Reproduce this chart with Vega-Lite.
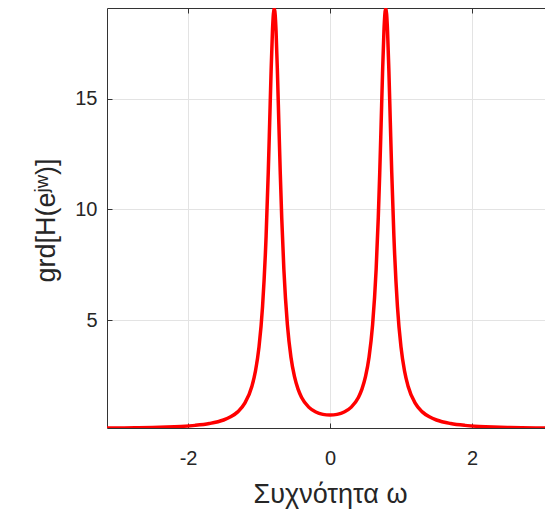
{
  "$schema": "https://vega.github.io/schema/vega-lite/v6.json",
  "width": 438,
  "height": 420,
  "autosize": {"type": "none"},
  "padding": {"left": 107, "top": 8, "right": 0, "bottom": 81},
  "background": "white",
  "config": {"view": {"stroke": null}, "font": "Liberation Sans"},
  "data": {"values": [
    {"w": -3.1416, "g": 0.1233}, {"w": -3.0, "g": 0.124}, {"w": -2.9, "g": 0.126}, {"w": -2.7, "g": 0.133},
    {"w": -2.5, "g": 0.145}, {"w": -2.3, "g": 0.164}, {"w": -2.1, "g": 0.194}, {"w": -1.9, "g": 0.242},
    {"w": -1.7, "g": 0.326}, {"w": -1.5, "g": 0.485}, {"w": -1.4, "g": 0.627}, {"w": -1.3, "g": 0.852},
    {"w": -1.2, "g": 1.244}, {"w": -1.1, "g": 2.013}, {"w": -1.05, "g": 2.699}, {"w": -1.0, "g": 3.791},
    {"w": -0.95, "g": 5.625}, {"w": -0.9, "g": 8.807}, {"w": -0.87, "g": 11.656}, {"w": -0.85, "g": 13.912},
    {"w": -0.83, "g": 16.216}, {"w": -0.81, "g": 18.121}, {"w": -0.7854, "g": 19.105}, {"w": -0.76, "g": 18.065},
    {"w": -0.74, "g": 16.137}, {"w": -0.72, "g": 13.833}, {"w": -0.7, "g": 11.588}, {"w": -0.68, "g": 9.622},
    {"w": -0.65, "g": 7.298}, {"w": -0.6, "g": 4.78}, {"w": -0.55, "g": 3.322}, {"w": -0.5, "g": 2.44},
    {"w": -0.45, "g": 1.879}, {"w": -0.4, "g": 1.505}, {"w": -0.3, "g": 1.068}, {"w": -0.2, "g": 0.847},
    {"w": -0.1, "g": 0.74}, {"w": 0.0, "g": 0.707},
    {"w": 0.1, "g": 0.74}, {"w": 0.2, "g": 0.847}, {"w": 0.3, "g": 1.068}, {"w": 0.4, "g": 1.505},
    {"w": 0.45, "g": 1.879}, {"w": 0.5, "g": 2.44}, {"w": 0.55, "g": 3.322}, {"w": 0.6, "g": 4.78},
    {"w": 0.65, "g": 7.298}, {"w": 0.68, "g": 9.622}, {"w": 0.7, "g": 11.588}, {"w": 0.72, "g": 13.833},
    {"w": 0.74, "g": 16.137}, {"w": 0.76, "g": 18.065}, {"w": 0.7854, "g": 19.105}, {"w": 0.81, "g": 18.121},
    {"w": 0.83, "g": 16.216}, {"w": 0.85, "g": 13.912}, {"w": 0.87, "g": 11.656}, {"w": 0.9, "g": 8.807},
    {"w": 0.95, "g": 5.625}, {"w": 1.0, "g": 3.791}, {"w": 1.05, "g": 2.699}, {"w": 1.1, "g": 2.013},
    {"w": 1.2, "g": 1.244}, {"w": 1.3, "g": 0.852}, {"w": 1.4, "g": 0.627}, {"w": 1.5, "g": 0.485},
    {"w": 1.7, "g": 0.326}, {"w": 1.9, "g": 0.242}, {"w": 2.1, "g": 0.194}, {"w": 2.3, "g": 0.164},
    {"w": 2.5, "g": 0.145}, {"w": 2.7, "g": 0.133}, {"w": 2.9, "g": 0.126}, {"w": 3.0, "g": 0.124},
    {"w": 3.1416, "g": 0.1233}
  ]},
  "layer": [
    {
      "mark": {"type": "line", "color": "#ff0000", "strokeWidth": 3.5, "clip": true, "interpolate": "monotone"},
      "encoding": {
        "x": {"field": "w", "type": "quantitative",
          "scale": {"domain": [-3.1416, 3.0289], "nice": false, "zero": false},
          "axis": {"values": [-2, 0, 2], "labelExpr": "'' + datum.value", "title": "Συχνότητα ω", "grid": true, "gridColor": "#e3e3e3",
            "domainColor": "#333333", "tickColor": "#333333", "tickSize": -5,
            "labelFontSize": 20, "labelColor": "#262626", "labelPadding": 25,
            "titleFontSize": 27, "titleFontWeight": "normal", "titleColor": "#262626",
            "titleX": 223, "titleY": 74, "titleAlign": "center", "titleBaseline": "alphabetic"}},
        "y": {"field": "g", "type": "quantitative",
          "scale": {"domain": [0.1233, 19.105], "nice": false, "zero": false},
          "axis": {"values": [5, 10, 15], "title": "grd[H(eʲʷ)]", "grid": true, "gridColor": "#e3e3e3",
            "domainColor": "#333333", "tickColor": "#333333", "tickSize": -5,
            "labelFontSize": 20, "labelColor": "#262626", "labelPadding": 15,
            "titleFontSize": 27, "titleFontWeight": "normal", "titleColor": "#262626",
            "titleX": -53, "titleY": 212, "titleAngle": -90, "titleAlign": "center", "titleBaseline": "alphabetic"}}
      }
    },
    {
      "mark": {"type": "line", "opacity": 0, "clip": true},
      "encoding": {
        "x": {"field": "w", "type": "quantitative",
          "axis": {"orient": "top", "values": [-2, 0, 2], "labels": false, "title": null, "grid": false,
            "domainColor": "#333333", "tickColor": "#333333", "tickSize": -5}},
        "y": {"field": "g", "type": "quantitative"}
      }
    }
  ],
  "resolve": {"axis": {"x": "independent"}}
}
